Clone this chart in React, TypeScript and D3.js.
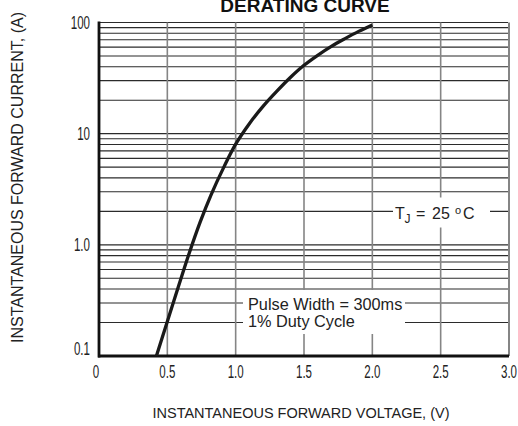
import React from "react";
import * as d3 from "d3";

const voltage = [0.42, 0.5, 0.58, 0.66, 0.74, 0.82, 0.91, 1.0, 1.1, 1.2, 1.3, 1.4, 1.5, 1.6, 1.7, 1.8, 1.9, 2.0];
const current = [0.1, 0.204, 0.417, 0.841, 1.6, 2.82, 4.9, 8.04, 12.3, 17.6, 24.0, 32.0, 41.2, 50.7, 61.0, 71.6, 83.2, 95.1];

const xTickValues = [0, 0.5, 1.0, 1.5, 2.0, 2.5, 3.0];
const xTickLabels = ["0", "0.5", "1.0", "1.5", "2.0", "2.5", "3.0"];
const yTickValues = [0.1, 1, 10, 100];
const yTickLabels = ["0.1", "1.0", "10", "100"];

const title = "DERATING CURVE";
const xTitle = "INSTANTANEOUS FORWARD VOLTAGE, (V)";
const yTitle = "INSTANTANEOUS FORWARD CURRENT, (A)";

const W = 518;
const H = 426;
const L = 99;
const R = 509;
const T = 22.5;
const B = 356;
const FONT = "'Liberation Sans', Arial, Helvetica, sans-serif";

export default function App() {
  const x = d3.scaleLinear().domain([0, 3]).range([L, R]);
  const y = d3.scaleLog().domain([0.1, 100]).range([B, T]);

  const hGrid: number[] = [];
  [0.1, 1, 10].forEach((dec) => {
    for (let k = 1; k <= 9; k++) {
      const v = +(k * dec).toPrecision(3);
      if (v > 0.1) hGrid.push(v);
    }
  });
  hGrid.push(100);

  const pts: [number, number][] = voltage.map((v, i) => [x(v), y(current[i])]);
  const line = d3.line<[number, number]>().x((d) => d[0]).y((d) => d[1]).curve(d3.curveCatmullRom.alpha(0.5));

  return (
    <svg width={W} height={H} style={{ position: "absolute", left: 0, top: 0, background: "#fff" }} fontFamily={FONT}>
      <rect x={0} y={0} width={W} height={H} fill="#fff" />
      <text x={305} y={12} textAnchor="middle" fontWeight="bold" fontSize={19} fill="#111">{title}</text>

      {/* horizontal grid */}
      {hGrid.map((v) => (
        <line key={"h" + v} x1={L} x2={R - 1} y1={y(v)} y2={y(v)} stroke="#2b2b2b" strokeWidth={1.1} />
      ))}
      {/* vertical grid */}
      {xTickValues.slice(1).map((v) => (
        <line key={"v" + v} x1={x(v)} x2={x(v)} y1={T} y2={B} stroke="#858585" strokeWidth={v === 3 ? 2 : 1.6} />
      ))}

      {/* annotation backgrounds */}
      <rect x={393} y={197.5} width={97} height={30} fill="#fff" />
      <rect x={243} y={290} width={162} height={44} fill="#fff" />

      {/* axes */}
      <line x1={L} x2={L} y1={T - 1} y2={B + 1.5} stroke="#111" strokeWidth={2.8} />
      <line x1={L - 1} x2={R} y1={B} y2={B} stroke="#111" strokeWidth={2.8} />

      {/* curve */}
      <path d={line(pts) || ""} fill="none" stroke="#1a1a1a" strokeWidth={3.3} strokeLinecap="butt" />

      {/* y tick labels */}
      {yTickValues.map((v, i) => {
        const yy = Math.min(y(v) + 6, 355);
        return (
          <text key={"yt" + v} transform={`translate(90,${yy}) scale(0.66,1)`} textAnchor="end" fontSize={17.5} fill="#222">
            {yTickLabels[i]}
          </text>
        );
      })}
      {/* x tick labels */}
      {xTickValues.map((v, i) => (
        <text key={"xt" + v} transform={`translate(${x(v) - (i === 0 ? 3 : 0)},377.5) scale(0.66,1)`} textAnchor="middle" fontSize={17.5} fill="#222">
          {xTickLabels[i]}
        </text>
      ))}

      {/* annotations */}
      <text y={219} fontSize={16} fill="#222">
        <tspan x={395}>T</tspan>
        <tspan x={404.5} dy={4} fontSize={12}>J</tspan>
        <tspan x={416} dy={-4}>=</tspan>
        <tspan x={432}>25</tspan>
        <tspan x={455} dy={-5} fontSize={11}>o</tspan>
        <tspan x={463} dy={5}>C</tspan>
      </text>
      <text x={248} y={310} fontSize={16.3} fill="#222">Pulse Width = 300ms</text>
      <text x={248} y={327} fontSize={16.3} fill="#222">1% Duty Cycle</text>

      {/* axis titles */}
      <text x={301} y={418} textAnchor="middle" fontSize={14.5} fill="#222">{xTitle}</text>
      <text transform="translate(23,177.5) rotate(-90)" textAnchor="middle" fontSize={16} fill="#222">{yTitle}</text>
    </svg>
  );
}
